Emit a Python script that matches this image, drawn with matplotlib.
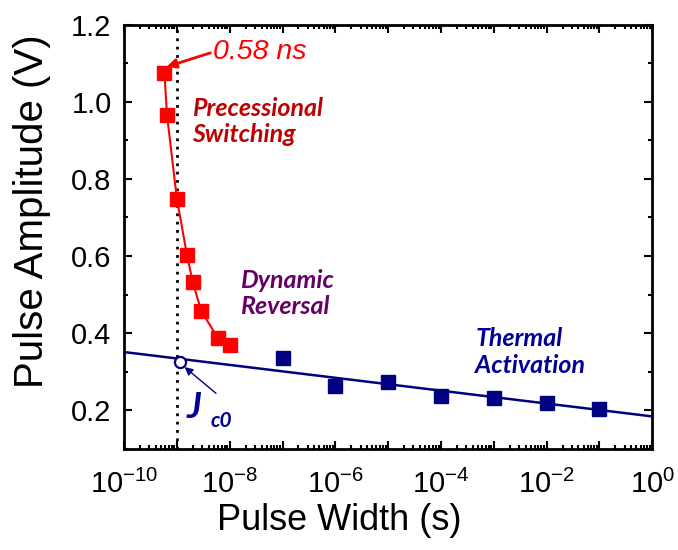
import numpy as np
import matplotlib
matplotlib.use("Agg")
import matplotlib.pyplot as plt
from matplotlib.ticker import LogLocator, MultipleLocator, NullFormatter

plt.rcParams['font.family'] = ['Liberation Sans', 'DejaVu Sans']
plt.rcParams['mathtext.default'] = 'regular'

# data
precess_width = [5.8e-10, 6.5e-10, 1.0e-9, 1.55e-9, 2.0e-9, 2.9e-9, 6.0e-9, 1.0e-8]
precess_amp = [1.075, 0.966, 0.748, 0.603, 0.532, 0.457, 0.387, 0.369]

thermal_width = [1e-7, 1e-6, 1e-5, 1e-4, 1e-3, 1e-2, 1e-1]
thermal_amp = [0.335, 0.262, 0.274, 0.237, 0.232, 0.219, 0.203]

fit_width = [1e-10, 1e0]
fit_amp = [0.351, 0.184]

jc0_width = [1.15e-9]
jc0_amp = [0.326]

cutoff_width = 1e-9

x_ticks = [10.0**k for k in range(-10, 1)]
x_tick_labels = [r'$10^{%d}$' % k if k % 2 == 0 else '' for k in range(-10, 1)]
y_ticks = [0.2, 0.4, 0.6, 0.8, 1.0, 1.2]
y_tick_labels = ['0.2', '0.4', '0.6', '0.8', '1.0', '1.2']

red = '#FF0000'
navy = '#000080'

fig = plt.figure(figsize=(6.78, 5.5), dpi=100)
ax = fig.add_axes([0.183, 0.184, 0.779, 0.771])

ax.axvline(cutoff_width, color='black', lw=2, ls=(0, (1, 2)), zorder=1)

ax.plot(fit_width, fit_amp, color=navy, lw=1.8, zorder=2)
ax.plot(thermal_width, thermal_amp, ls='none', marker='s', ms=9.5,
        color=navy, zorder=3)
ax.plot(precess_width, precess_amp, color=red, lw=1.5, marker='s', ms=9.5,
        zorder=3)
ax.plot(jc0_width, jc0_amp, ls='none', marker='o', ms=8, mfc='white',
        mec=navy, mew=1.6, zorder=4)

ax.set_xscale('log')
ax.set_xlim(1e-10, 1e0)
ax.set_ylim(0.1, 1.2)

ax.set_xticks(x_ticks)
ax.set_xticklabels(x_tick_labels)
ax.xaxis.set_minor_locator(LogLocator(base=10, subs=np.arange(2, 10), numticks=20))
ax.xaxis.set_minor_formatter(NullFormatter())
ax.set_yticks(y_ticks)
ax.set_yticklabels(y_tick_labels)
ax.yaxis.set_minor_locator(MultipleLocator(0.1))

ax.tick_params(which='both', direction='in', top=True, right=True, width=1.5)
ax.tick_params(which='major', length=6)
ax.tick_params(which='minor', length=3)
ax.tick_params(axis='x', which='major', labelsize=21, pad=15)
ax.tick_params(axis='y', which='major', labelsize=21, pad=9)
for s in ax.spines.values():
    s.set_linewidth(2)

ax.set_xlabel('Pulse Width (s)', fontsize=26)
ax.xaxis.set_label_coords(0.407, -0.127)
ax.set_ylabel('Pulse Amplitude (V)', fontsize=29)
ax.yaxis.set_label_coords(-0.138, 0.56)

# annotations
ax.annotate('', xy=(6.4e-10, 1.091), xytext=(4.3e-9, 1.127),
            arrowprops=dict(arrowstyle='-|>', color=red, lw=2,
                            mutation_scale=14, shrinkA=0, shrinkB=0))
ax.text(4.9e-9, 1.130, '0.58 ns', color=red, fontsize=20.5, style='italic',
        ha='left', va='center')

label_font = ['Lato', 'Open Sans', 'DejaVu Sans']
ax.text(1.94e-9, 0.949, 'Precessional\nSwitching', color='#C00000',
        fontsize=18, fontweight='bold', style='italic', family=label_font,
        ha='left', va='center', linespacing=1.2)
ax.text(1.58e-8, 0.503, 'Dynamic\nReversal', color='#660066',
        fontsize=18, fontweight='bold', style='italic', family=label_font,
        ha='left', va='center', linespacing=1.2)
ax.text(4.5e-4, 0.352, 'Thermal\nActivation', color='#000099',
        fontsize=18, fontweight='bold', style='italic', family=label_font,
        ha='left', va='center', linespacing=1.2)

ax.annotate('', xy=(1.4e-9, 0.312), xytext=(5.5e-9, 0.244),
            arrowprops=dict(arrowstyle='-|>', color=navy, lw=1,
                            mutation_scale=12, shrinkA=0, shrinkB=0))
ax.text(1.5e-9, 0.207, 'J', color='#000099', fontsize=26, fontweight='bold',
        style='italic', family=label_font, ha='left', va='center')
ax.text(4.3e-9, 0.172, 'c0', color='#000099', fontsize=15, fontweight='bold',
        style='italic', family=label_font, ha='left', va='center')

fig.savefig('out.png', dpi=100)
